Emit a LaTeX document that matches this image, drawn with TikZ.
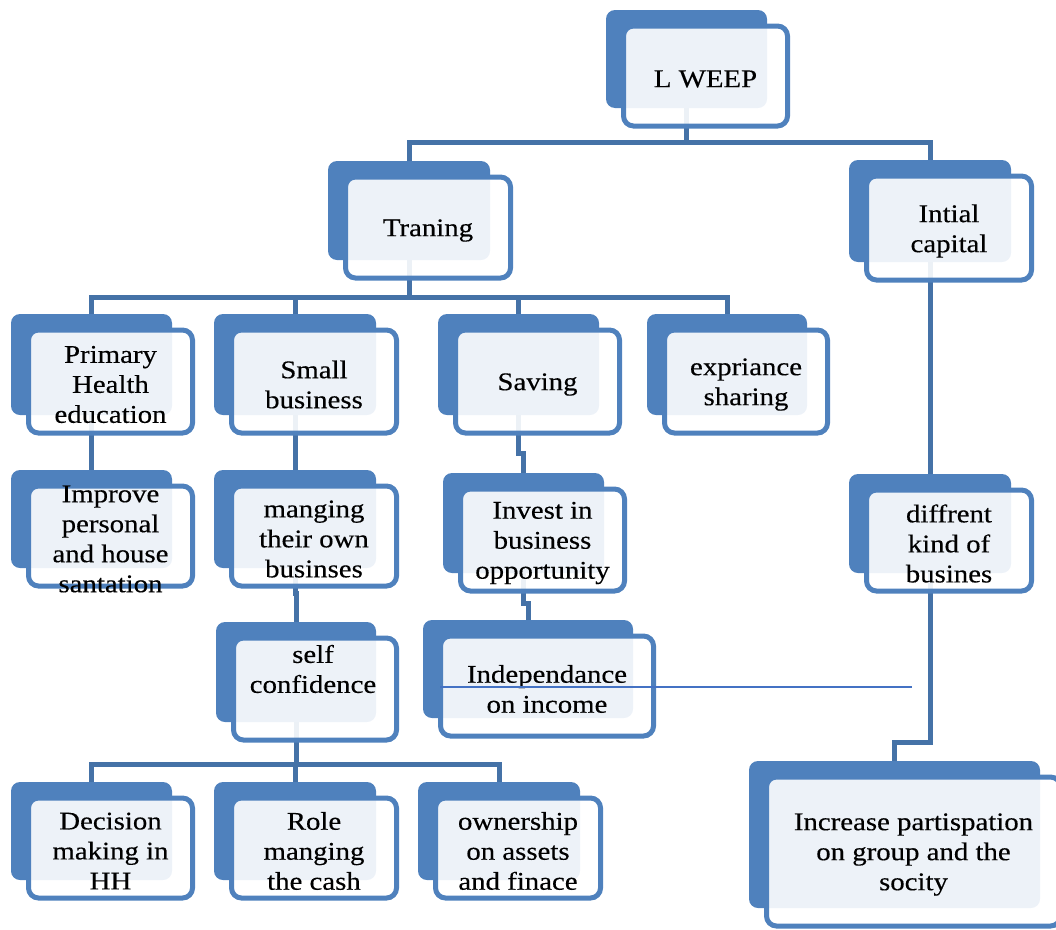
\documentclass[tikz,border=0pt]{standalone}
\usepackage{fontspec}
\setmainfont{Liberation Serif}[FakeStretch=1.13,FakeBold=0.3]
\definecolor{bk}{HTML}{4F81BD}
\definecolor{cn}{HTML}{4572A7}
\definecolor{tl}{HTML}{4472C4}
\newcommand{\backb}[5]{%
  \node[backbox, minimum width={#4-#2}, minimum height={#5-#3}] (#1) at ({(#2+#4)/2},{(#3+#5)/2}) {};}
\newcommand{\frontb}[6]{%
  \node[frontbox, minimum width={#4-#2+3}, minimum height={#5-#3+2}] (#1f) at ({(#2+#4)/2+19},{(#3+#5)/2+17}) {};
  \node[txt] (#1t) at ([yshift=-3pt]#1f.center) {#6};}
\begin{document}
\begin{tikzpicture}[x=1pt,y=-1pt,
  backbox/.style={fill=bk, rounded corners=9pt, inner sep=0pt, outer sep=0pt},
  frontbox/.style={draw=bk, line width=5pt, fill=white, fill opacity=0.9,
    rounded corners=10pt, inner sep=0pt, outer sep=0pt},
  conn/.style={draw=cn, line width=5pt},
  txt/.style={align=center, inner sep=0pt, font=\fontsize{25.5}{30}\selectfont},
  thin/.style={draw=tl, line width=1.5pt}]
\useasboundingbox (0,0) rectangle (1056,929);
% back boxes
\backb{lw}{606}{10}{767}{108}
\backb{tr}{328}{161}{490}{260}
\backb{ic}{849}{160}{1011}{262}
\backb{ph}{11}{314}{172}{415}
\backb{sb}{214}{314}{376}{415}
\backb{sv}{438}{314}{599}{415}
\backb{ex}{647}{314}{807}{415}
\backb{ip}{11}{470}{172}{568}
\backb{mo}{214}{470}{376}{568}
\backb{iv}{443}{473}{604}{573}
\backb{dk}{849}{474}{1011}{573}
\backb{sc}{216}{622}{376}{722}
\backb{id}{423}{620}{633}{718}
\backb{in}{749}{761}{1040}{908}
\backb{dm}{11}{782}{172}{880}
\backb{rc}{214}{782}{376}{880}
\backb{ow}{418}{782}{580}{880}
% connectors
\coordinate (j1) at (686.5,142);
\coordinate (j2) at (409,297);
\coordinate (j3) at (296,764);
\coordinate (j4) at (930,742);
\draw[conn] (lw.south) -- (j1);
\draw[conn] (tr.north) |- (j1) -| (ic.north);
\draw[conn] (tr.south) -- (j2);
\draw[conn] (ph.north) |- (j2) -| (ex.north);
\draw[conn] (sb.north) -- (sb.north |- j2);
\draw[conn] (sv.north) -- (sv.north |- j2);
\draw[conn] (ph.south) -- (ip.north);
\draw[conn] (sb.south) -- (mo.north);
\draw[conn] (mo.south) -- ++(0,25) -| (sc.north);
\draw[conn] (sv.south) -- ++(0,38) -| (iv.north);
\draw[conn] (iv.south) -- ++(0,30) -| (id.north);
\draw[conn] (sc.south) -- (j3);
\draw[conn] (dm.north) |- (j3) -| (ow.north);
\draw[conn] (rc.north) -- (rc.north |- j3);
\draw[conn] (ic.south) -- (dk.north);
\draw[conn] (dk.south) -- (j4) -| (in.north);
% front boxes
\frontb{lw}{606}{10}{767}{108}{L WEEP}
\frontb{tr}{328}{161}{490}{260}{Traning}
\frontb{ic}{849}{160}{1011}{262}{Intial\\capital}
\frontb{ph}{11}{314}{172}{415}{Primary\\Health\\education}
\frontb{sb}{214}{314}{376}{415}{Small\\business}
\frontb{sv}{438}{314}{599}{415}{Saving}
\frontb{ex}{647}{314}{807}{415}{expriance\\sharing}
\frontb{ip}{11}{470}{172}{568}{Improve\\personal\\and house\\santation}
\frontb{mo}{214}{470}{376}{568}{manging\\their own\\businses}
\frontb{iv}{443}{473}{604}{573}{Invest in\\business\\opportunity}
\frontb{dk}{849}{474}{1011}{573}{diffrent\\kind of\\busines}
\node[frontbox, minimum width=163, minimum height=102] (scf) at (315,689) {};
\node[txt] (sct) at (313,669) {self\\confidence};
\frontb{id}{423}{620}{633}{718}{Independance\\on income}
\frontb{in}{749}{761}{1040}{908}{Increase partispation\\on group and the\\socity}
\frontb{dm}{11}{782}{172}{880}{Decision\\making in\\HH}
\frontb{rc}{214}{782}{376}{880}{Role\\manging\\the cash}
\frontb{ow}{418}{782}{580}{880}{ownership\\on assets\\and finace}
% thin line
\coordinate (tla) at (440,687);
\coordinate (tlb) at (912,687);
\draw[thin] (tla) -- (tlb);
\end{tikzpicture}
\end{document}
